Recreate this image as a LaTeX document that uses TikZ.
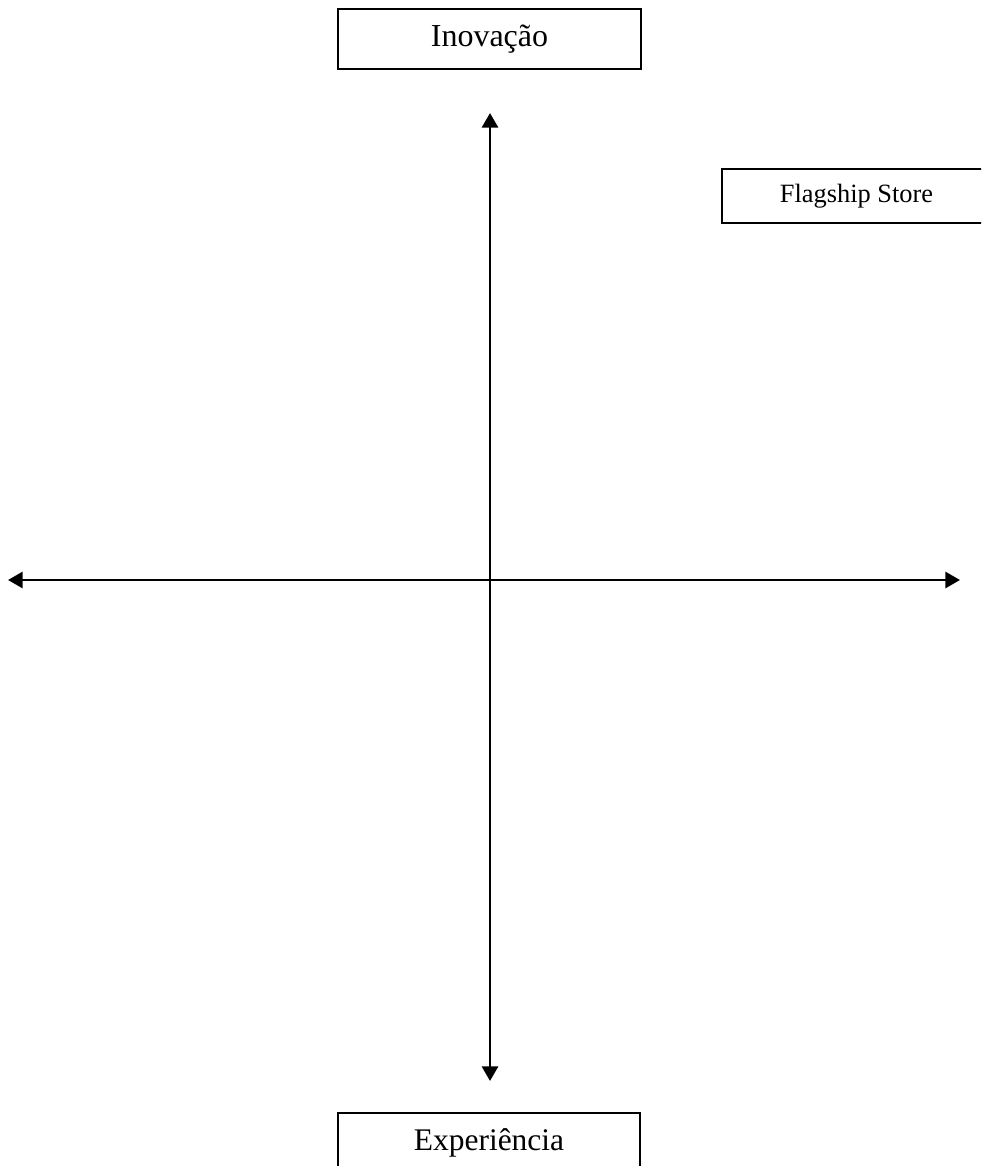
\documentclass[tikz,border=0pt]{standalone}
\usepackage{fontspec}
\setmainfont{Liberation Serif}
\usetikzlibrary{arrows.meta}
\begin{document}
\begin{tikzpicture}[x=0.75pt,y=-0.75pt,
  labelbox/.style={draw=black,line width=1.7pt,fill=white,inner sep=0pt,anchor=center},
  axis/.style={line width=2.2pt,{Triangle[length=11pt,width=12pt]}-{Triangle[length=11pt,width=12pt]}}]
\useasboundingbox (0,0) rectangle (981,1166);
\fill[white] (0,0) rectangle (981,1166);
\clip (0,0) rectangle (981,1166);
% axes
\coordinate (left) at (8,580);
\coordinate (right) at (960,580);
\coordinate (top) at (490,113);
\coordinate (bottom) at (490,1081);
\draw[axis] (left) -- (right);
\draw[axis] (top) -- (bottom);
% boxes
\node[labelbox,minimum width=227pt,minimum height=45pt,font=\fontsize{24pt}{28pt}\selectfont] (inov) at (489.5,39) {Inovação};
\node[labelbox,minimum width=202pt,minimum height=40.5pt,font=\fontsize{19.8pt}{24pt}\selectfont] (flag) at (856.5,196) {Flagship Store};
\node[labelbox,minimum width=226.5pt,minimum height=45pt,font=\fontsize{23.6pt}{28pt}\selectfont] (exp) at (489,1143) {Experiência};
\end{tikzpicture}
\end{document}
